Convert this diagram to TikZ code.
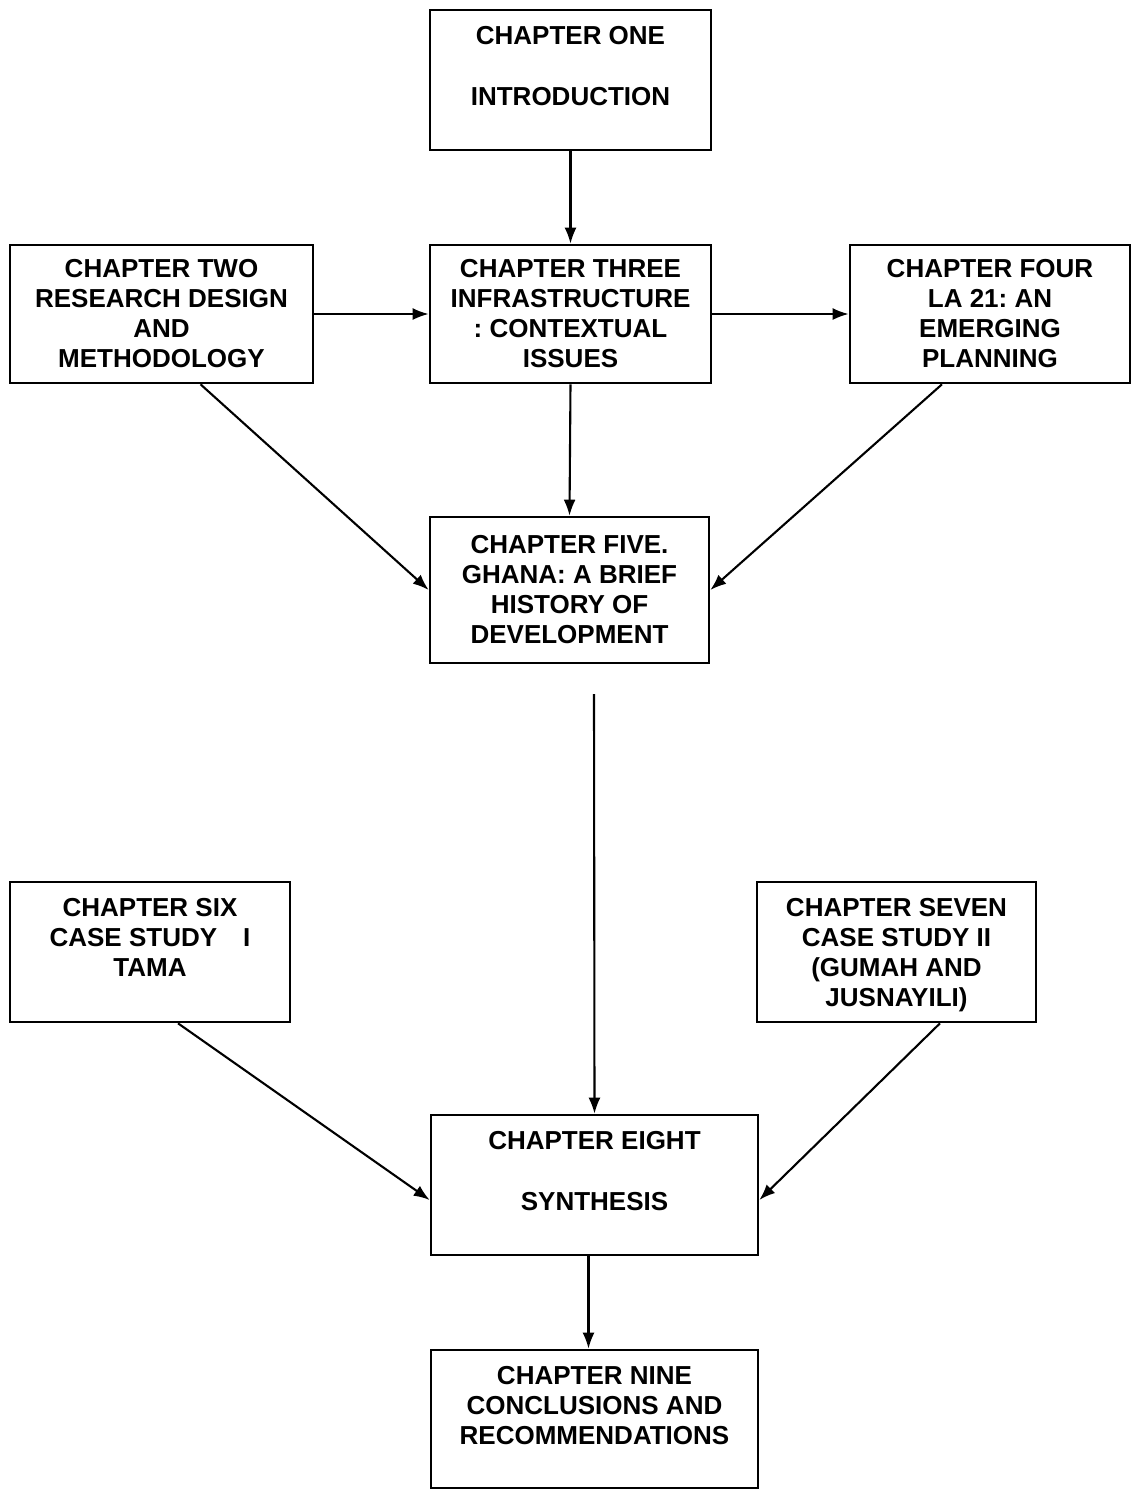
\documentclass[tikz,border=0pt]{standalone}
\usepackage{fontspec}
\setmainfont{Liberation Sans}
\usetikzlibrary{arrows.meta}
\begin{document}
\frenchspacing
\begin{tikzpicture}[x=1pt,y=-1pt,
  chapbox/.style={draw, line width=2.6pt, inner sep=0pt, minimum width=#1},
  chapbox/.default=280pt,
  chaptext/.style={anchor=north, align=center, inner sep=0pt,
    font=\fontsize{26}{30}\selectfont\bfseries},
  link/.style={line width=2.1pt, -{Latex[length=16pt,width=12pt]}}]
\useasboundingbox (0,0) rectangle (1136,1500);

% chapter boxes
\node[chapbox=281pt, minimum height=140pt] (b1) at (570.5,80) {};
\node[chapbox=303pt, minimum height=138pt] (b2) at (161.5,314) {};
\node[chapbox=281pt, minimum height=138pt] (b3) at (570.5,314) {};
\node[chapbox=280pt, minimum height=138pt] (b4) at (990,314) {};
\node[chapbox=279pt, minimum height=146pt] (b5) at (569.5,590) {};
\node[chapbox=280pt, minimum height=140pt] (b6) at (150,952) {};
\node[chapbox=279pt, minimum height=140pt] (b7) at (896.5,952) {};
\node[chapbox=327pt, minimum height=140pt] (b8) at (594.5,1185) {};
\node[chapbox=327pt, minimum height=138pt] (b9) at (594.5,1419) {};

% chapter titles
\node[chaptext] (t1) at ([yshift=-17pt]b1.north) {CHAPTER ONE\\[31pt]INTRODUCTION};
\node[chaptext] (t2) at ([yshift=-15pt]b2.north) {CHAPTER TWO\\RESEARCH DESIGN\\AND\\METHODOLOGY};
\node[chaptext] (t3) at ([yshift=-15pt]b3.north) {CHAPTER THREE\\INFRASTRUCTURE\\: CONTEXTUAL\\ISSUES};
\node[chaptext] (t4) at ([yshift=-15pt]b4.north) {CHAPTER FOUR\\LA 21: AN\\EMERGING\\PLANNING};
\node[chaptext] (t5) at ([yshift=-19pt]b5.north) {CHAPTER FIVE.\\GHANA: A BRIEF\\HISTORY OF\\DEVELOPMENT};
\node[chaptext] (t6) at ([yshift=-17pt]b6.north) {CHAPTER SIX\\CASE STUDY\quad I\\TAMA};
\node[chaptext] (t7) at ([yshift=-17pt]b7.north) {CHAPTER SEVEN\\CASE STUDY II\\(GUMAH AND\\JUSNAYILI)};
\node[chaptext] (t8) at ([yshift=-17pt]b8.north) {CHAPTER EIGHT\\[31pt]SYNTHESIS};
\node[chaptext] (t9) at ([yshift=-17pt]b9.north) {CHAPTER NINE\\CONCLUSIONS AND\\RECOMMENDATIONS};

% connectors
\coordinate (gapstart) at (594,694);
\draw[link] (b1.south) -- (b3.north);
\draw[link] (b2.east) -- (b3.west);
\draw[link] (b3.east) -- (b4.west);
\draw[link] (b3.south) -- (b5.north);
\draw[link] ([xshift=39pt]b2.south) -- (b5.west);
\draw[link] ([xshift=-48pt]b4.south) -- (b5.east);
\draw[link] (gapstart) -- (b8.north);
\draw[link] ([xshift=28pt]b6.south) -- ([yshift=-15pt]b8.west);
\draw[link] ([xshift=43.5pt]b7.south) -- ([yshift=-15pt]b8.east);
\draw[link] ([xshift=-6pt]b8.south) -- ([xshift=-6pt]b9.north);
\end{tikzpicture}
\end{document}
